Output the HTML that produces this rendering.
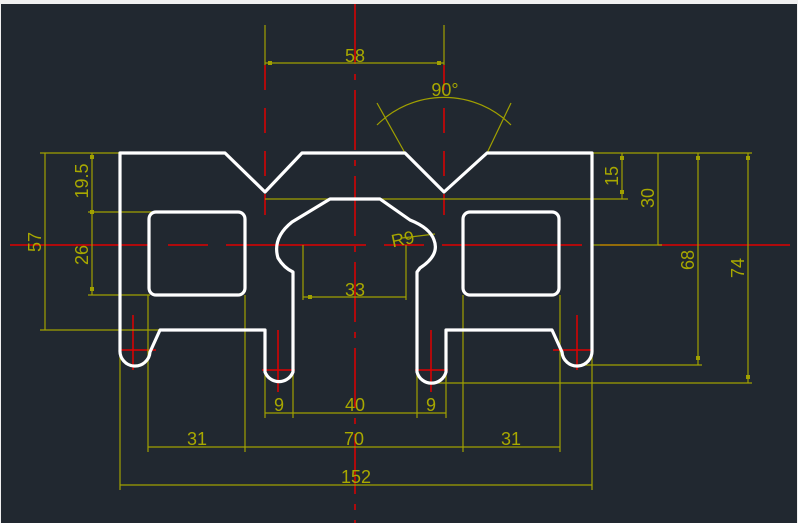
<!DOCTYPE html>
<html><head><style>
html,body{margin:0;padding:0;background:#212830;}
svg{display:block;}
text{font-family:"Liberation Sans",sans-serif;font-size:18px;fill:#a8a800;}
</style></head><body>
<svg width="798" height="523" viewBox="0 0 798 523" xmlns="http://www.w3.org/2000/svg">
<rect width="798" height="523" fill="#212830"/>
<rect x="0" y="0" width="798" height="4" fill="#f0f0f0"/>
<rect x="0" y="0" width="1" height="523" fill="#f0f0f0"/>
<rect x="797" y="0" width="1" height="523" fill="#f0f0f0"/>
<!-- centerlines -->
<g stroke="#e00000" stroke-width="1.5" fill="none">
<line x1="355" y1="4" x2="355" y2="523" stroke-dasharray="60,10,6,10"/>
<line x1="10" y1="245" x2="790" y2="245" stroke-dasharray="140,18,40,18"/>
<line x1="265" y1="65" x2="265" y2="215" stroke-dasharray="25,18"/>
<line x1="444" y1="65" x2="444" y2="215" stroke-dasharray="25,18"/>
<path d="M120 350H156M133 315V370 M262 370H295M278 330V392 M415 370H448M431 330V392 M553 350H592M577 315V370"/>
</g>
<!-- dimensions -->
<g stroke="#a0a000" stroke-width="1.2" fill="none">
<path d="M265 25V65M444 25V65M265 63H444"/>
<path d="M377 103L405 153M511 103L487 153"/>
<path d="M377 125A95 95 0 0 1 511 125"/>
<path d="M40 153H120M88 212H152M88 295H150M40 330H160"/>
<path d="M45 153V330M92 153V295"/>
<path d="M592 153H752M265 199H628M592 245H662M577 365H702M431 383H752"/>
<path d="M622 153V199M658 153V245M698 153V365M748 153V383"/>
<path d="M303 245V300M406 245V300M303 297H406M402 238L435 234"/>
<path d="M120 350V490M148 295V452M245 295V452M265 370V418M293 370V418M417 370V418M446 370V418M463 295V452M560 295V452M592 350V490"/>
<path d="M265 413H446M148 447H560M120 485H592"/>
</g>
<g fill="#a0a000">
<rect x="268" y="61" width="4" height="4"/><rect x="437" y="61" width="4" height="4"/>
<rect x="90" y="155" width="4" height="4"/><rect x="90" y="210" width="4" height="4"/><rect x="90" y="287" width="4" height="4"/>
<rect x="620" y="156" width="4" height="4"/><rect x="620" y="190" width="4" height="4"/>
<rect x="696" y="156" width="4" height="4"/><rect x="696" y="356" width="4" height="4"/>
<rect x="746" y="156" width="4" height="4"/><rect x="746" y="375" width="4" height="4"/>
<rect x="308" y="295" width="4" height="4"/>
</g>
<!-- outline -->
<g stroke="#ffffff" stroke-width="3.2" fill="none" stroke-linejoin="round">
<path d="M120 153H225L265 192L302 153H405L444 192L487 153H592V350
A15 15 0 0 1 562 352L552 330H446V372A15 15 0 0 1 417 372V272L420 268
Q440 255 434 240Q430 228 410 220L380 199H330L292 222Q272 238 278 258Q284 268 293 272V372A15 15 0 0 1 265 372V330H160L150 352A15 15 0 0 1 120 350Z"/>
<rect x="149" y="212" width="96" height="83" rx="7"/>
<rect x="463" y="212" width="96" height="83" rx="7"/>
</g>
<!-- labels -->
<text x="355" y="62" text-anchor="middle">58</text>
<text x="445" y="96" text-anchor="middle">90°</text>
<text transform="translate(41,242) rotate(-90)" text-anchor="middle">57</text>
<text transform="translate(88,181) rotate(-90)" text-anchor="middle">19.5</text>
<text transform="translate(88,255) rotate(-90)" text-anchor="middle">26</text>
<text transform="translate(618,176) rotate(-90)" text-anchor="middle">15</text>
<text transform="translate(654,198) rotate(-90)" text-anchor="middle">30</text>
<text transform="translate(694,260) rotate(-90)" text-anchor="middle">68</text>
<text transform="translate(744,268) rotate(-90)" text-anchor="middle">74</text>
<text x="355" y="296" text-anchor="middle">33</text>
<text transform="translate(404,245) rotate(-12)" text-anchor="middle">R9</text>
<text x="279" y="411" text-anchor="middle">9</text>
<text x="355" y="411" text-anchor="middle">40</text>
<text x="431" y="411" text-anchor="middle">9</text>
<text x="197" y="445" text-anchor="middle">31</text>
<text x="354" y="445" text-anchor="middle">70</text>
<text x="511" y="445" text-anchor="middle">31</text>
<text x="356" y="483" text-anchor="middle">152</text>
</svg>
</body></html>
